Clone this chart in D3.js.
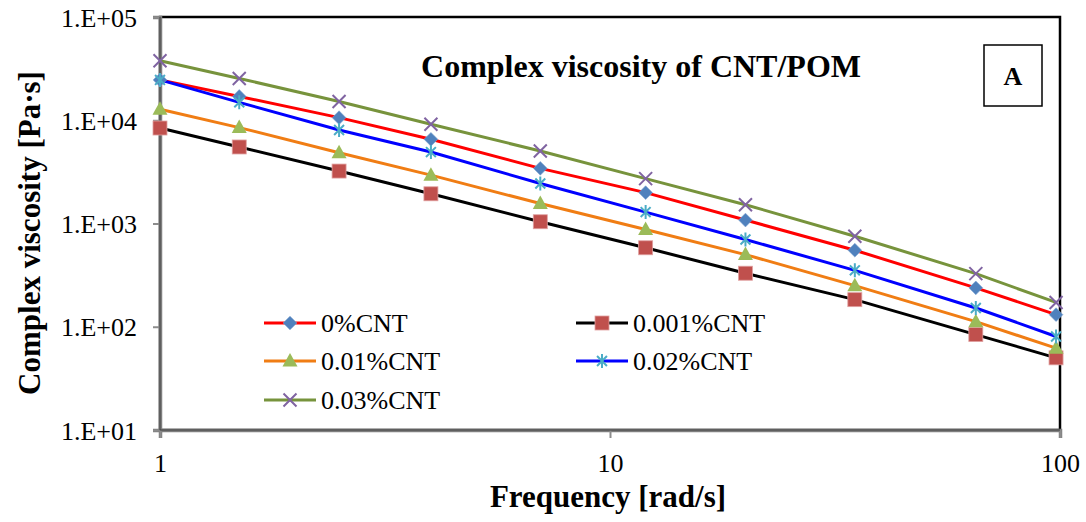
<!DOCTYPE html>
<html>
<head>
<meta charset="utf-8">
<script src="https://cdn.jsdelivr.net/npm/d3@7/dist/d3.min.js"></script>
<style>
  html, body { margin: 0; padding: 0; background: #fff; }
  svg { display: block; font-family: "Liberation Serif", "Times New Roman", serif; }
</style>
</head>
<body>
<svg id="chart" width="1086" height="522"></svg>
<script>
// Angular frequency sweep [rad/s]
const frequency = [1, 1.5, 2.5, 4, 7, 12, 20, 35, 65, 98];

// Complex viscosity [Pa·s] for each CNT loading
const cnt0   = [24600, 17000, 10600, 6540, 3420, 1990, 1080, 551, 238, 131];
const cnt001 = [8410, 5510, 3220, 1940, 1040, 582, 330, 183, 84, 50];
const cnt01  = [12800, 8490, 4850, 2940, 1560, 875, 500, 250, 112, 62];
const cnt02  = [24600, 14900, 8050, 4920, 2440, 1290, 700, 352, 152, 80.5];
const cnt03  = [37700, 25400, 15200, 9140, 5040, 2720, 1520, 753, 327, 172];

const seriesNames = ["0%CNT", "0.001%CNT", "0.01%CNT", "0.02%CNT", "0.03%CNT"];
const seriesValues = [cnt0, cnt001, cnt01, cnt02, cnt03];

const xTicks = [1, 10, 100];
const yTicks = [10, 100, 1000, 10000, 100000];
const yTickLabels = ["1.E+01", "1.E+02", "1.E+03", "1.E+04", "1.E+05"];

// Styling per series: line colour, marker shape and marker colour
const styles = [
  { line: "#FF0000", shape: "diamond",  fill: "#4F81BD" },
  { line: "#000000", shape: "square",   fill: "#C0504D" },
  { line: "#F07D14", shape: "triangle", fill: "#9BBB59" },
  { line: "#0000FF", shape: "star",     fill: "#4BACC6" },
  { line: "#77933C", shape: "cross",    fill: "#8064A2" }
];

const svg = d3.select("#chart");
const plot = { left: 160, right: 1060, top: 17, bottom: 430 };

const x = d3.scaleLog().domain([1, 100]).range([plot.left, plot.right]);
const y = d3.scaleLog().domain([10, 100000]).range([plot.bottom, plot.top]);

// Plot-area frame
svg.append("rect")
  .attr("x", plot.left).attr("y", plot.top)
  .attr("width", plot.right - plot.left).attr("height", plot.bottom - plot.top)
  .attr("fill", "none").attr("stroke", "#000").attr("stroke-width", 2.5);

// Axes
const yAxis = d3.axisLeft(y).tickValues(yTicks).tickSize(7)
  .tickFormat((d, i) => yTickLabels[i]);
const gy = svg.append("g").attr("transform", `translate(${plot.left},0)`).call(yAxis);

const xAxis = d3.axisBottom(x).tickValues(xTicks).tickSize(8).tickFormat(d3.format("d"));
const gx = svg.append("g").attr("transform", `translate(0,${plot.bottom})`).call(xAxis);

[gx, gy].forEach(g => {
  g.select(".domain").attr("stroke", "#7F7F7F").attr("stroke-width", 3.5);
  g.selectAll(".tick line").attr("stroke", "#8C8C8C").attr("stroke-width", 2);
  g.selectAll(".tick text")
    .attr("fill", "#000")
    .style("font-family", "'Liberation Serif', 'Times New Roman', serif")
    .style("font-size", "26px");
});
gy.selectAll(".tick text").attr("x", -23).attr("dy", "0.35em");
gx.selectAll(".tick text").attr("y", 24).attr("dy", "0.71em");
// thin dark core on the axis lines
svg.append("line").attr("x1", plot.left).attr("x2", plot.left)
  .attr("y1", plot.top).attr("y2", plot.bottom)
  .attr("stroke", "#404040").attr("stroke-width", 1);
svg.append("line").attr("x1", plot.left).attr("x2", plot.right)
  .attr("y1", plot.bottom).attr("y2", plot.bottom)
  .attr("stroke", "#404040").attr("stroke-width", 1);

// Marker drawing
function drawMarker(g, shape, fill, cx, cy) {
  if (shape === "diamond") {
    g.append("path").attr("d", d3.symbol().type(d3.symbolDiamond2).size(120)())
      .attr("transform", `translate(${cx},${cy})`)
      .attr("fill", fill).attr("stroke", "#7EA3D0").attr("stroke-width", 0.6);
  } else if (shape === "square") {
    g.append("rect").attr("x", cx - 7).attr("y", cy - 7).attr("width", 14).attr("height", 14)
      .attr("fill", fill).attr("stroke", "#E0A0A0").attr("stroke-width", 0.8);
  } else if (shape === "triangle") {
    g.append("path").attr("d", `M${cx},${cy - 8} L${cx + 7.5},${cy + 5.5} L${cx - 7.5},${cy + 5.5} Z`)
      .attr("fill", fill);
  } else if (shape === "star") {
    const r = 7;
    const d = r * Math.SQRT1_2;
    g.append("path")
      .attr("d", `M${cx},${cy - r} L${cx},${cy + r} M${cx - d},${cy - d} L${cx + d},${cy + d} M${cx - d},${cy + d} L${cx + d},${cy - d}`)
      .attr("stroke", fill).attr("stroke-width", 2).attr("fill", "none");
  } else if (shape === "cross") {
    const r = 6.5;
    g.append("path").attr("d", `M${cx - r},${cy - r} L${cx + r},${cy + r} M${cx - r},${cy + r} L${cx + r},${cy - r}`)
      .attr("stroke", fill).attr("stroke-width", 2).attr("fill", "none");
  }
}

// Series lines
const line = d3.line().x(d => x(d[0])).y(d => y(d[1]));
const linesG = svg.append("g");
seriesValues.forEach((vals, i) => {
  const pts = frequency.map((f, j) => [f, vals[j]]);
  linesG.append("path").datum(pts).attr("d", line)
    .attr("fill", "none").attr("stroke", styles[i].line).attr("stroke-width", 3);
});

// Series markers
const markersG = svg.append("g");
seriesValues.forEach((vals, i) => {
  frequency.forEach((f, j) => drawMarker(markersG, styles[i].shape, styles[i].fill, x(f), y(vals[j])));
});

// Legend
const legendPos = [
  { lx: 264, ly: 323 }, { lx: 576, ly: 323 },
  { lx: 264, ly: 361 }, { lx: 576, ly: 361 },
  { lx: 264, ly: 400 }
];
const legendG = svg.append("g");
seriesNames.forEach((name, i) => {
  const p = legendPos[i];
  legendG.append("line").attr("x1", p.lx).attr("x2", p.lx + 52)
    .attr("y1", p.ly).attr("y2", p.ly)
    .attr("stroke", styles[i].line).attr("stroke-width", 3);
  drawMarker(legendG, styles[i].shape, styles[i].fill, p.lx + 26, p.ly);
  legendG.append("text").attr("x", p.lx + 57).attr("y", p.ly).attr("dy", "0.35em")
    .style("font-size", "26px").attr("fill", "#000").text(name);
});

// Title
svg.append("text").attr("x", 641).attr("y", 77).attr("text-anchor", "middle")
  .style("font-size", "32px").style("font-weight", "bold").text("Complex viscosity of CNT/POM");

// Panel label
svg.append("rect").attr("x", 984).attr("y", 45).attr("width", 58).attr("height", 61)
  .attr("fill", "#fff").attr("stroke", "#000").attr("stroke-width", 1.5);
svg.append("text").attr("x", 1013).attr("y", 85).attr("text-anchor", "middle")
  .style("font-size", "26px").style("font-weight", "bold").text("A");

// Axis titles
svg.append("text").attr("x", 608).attr("y", 507).attr("text-anchor", "middle")
  .style("font-size", "31px").style("font-weight", "bold").text("Frequency [rad/s]");
svg.append("text").attr("transform", "translate(40,233) rotate(-90)").attr("text-anchor", "middle")
  .style("font-size", "31px").style("font-weight", "bold").text("Complex viscosity [Pa·s]");
</script>
</body>
</html>
